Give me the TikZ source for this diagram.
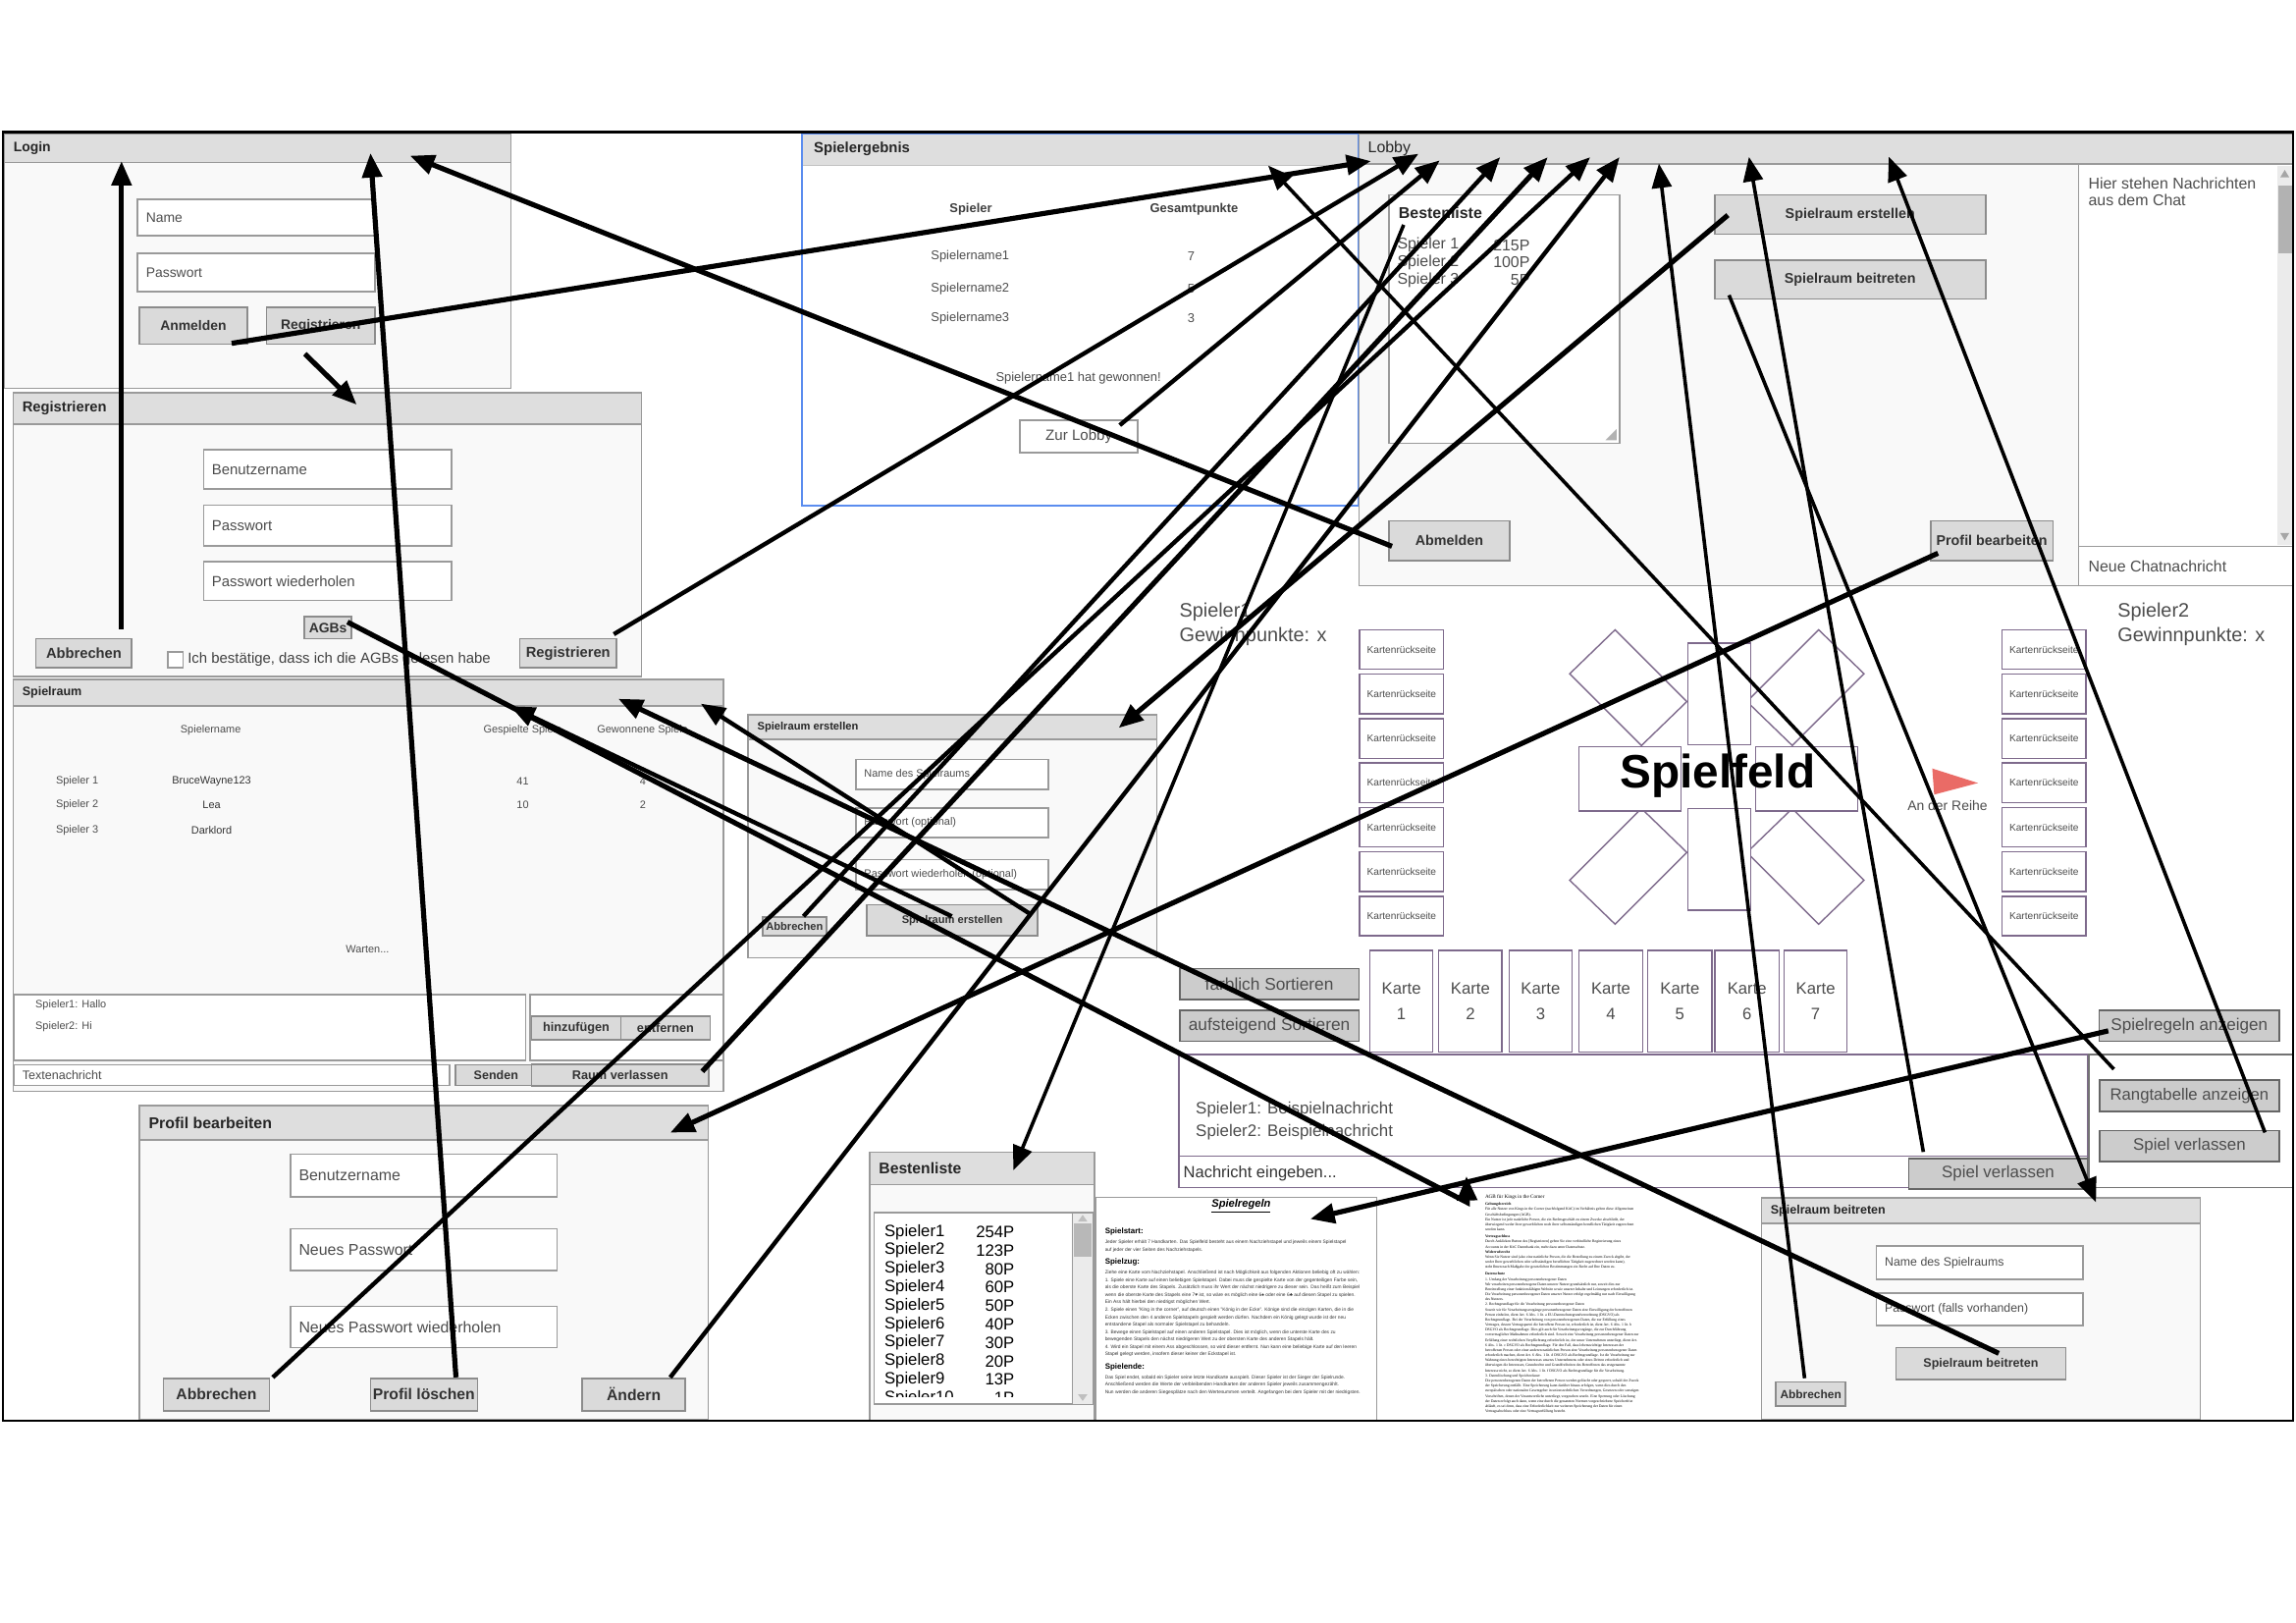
\documentclass[tikz,border=0pt]{standalone}
\usepackage{fontspec}
\setmainfont{Liberation Sans}
\newfontfamily\agbfont{Liberation Serif}
\usetikzlibrary{arrows.meta,positioning,fit}

\definecolor{hdr}{HTML}{DEDEDE}
\definecolor{bodyfill}{HTML}{F9F9F9}
\definecolor{frameline}{HTML}{9A9A9A}
\definecolor{btnfill}{HTML}{DADADA}
\definecolor{btnline}{HTML}{8C8C8C}
\definecolor{txtgray}{HTML}{4D4D4D}
\definecolor{cardline}{HTML}{7E6A8C}
\definecolor{resblue}{HTML}{5B8DEF}
\definecolor{flag}{HTML}{EA6B66}

\newcommand{\fsz}[1]{\fontsize{#1}{#1}\selectfont}

\tikzset{
  win/.style={draw=frameline, fill=bodyfill, line width=0.8pt},
  winhead/.style={draw=frameline, fill=hdr, line width=0.8pt},
  wintitle/.style={font=\bfseries, text=black!85, inner sep=0pt},
  field/.style={draw=frameline, fill=white, line width=0.8pt},
  fieldtxt/.style={text=txtgray, inner sep=0pt},
  btn/.style={draw=btnline, fill=btnfill, line width=0.8pt},
  btntxt/.style={font=\bfseries, text=black!80, inner sep=0pt},
  gbtn/.style={draw=black!60, fill=black!20, line width=0.8pt},
  card/.style={draw=cardline, fill=white, line width=0.7pt},
  cardtxt/.style={text=txtgray, inner sep=0pt},
  regh/.style={font=\bfseries\fsz{4}, inner sep=0pt, anchor=west},
  regb/.style={font=\fontsize{2.45}{3.8}\selectfont, align=left, inner sep=0pt, anchor=north west, text=black!80},
  lnk/.style={line width=2.2pt, -{Triangle[length=12.5pt,width=10pt]}},
  lnkthick/.style={lnk, line width=2.6pt},
  lnkthin/.style={lnk, line width=1.8pt},
}

% window with header bar: name, x1, y1, x2, y2, header bottom, title
\newcommand{\uiwin}[7]{%
  \draw[win] (#2,#3) rectangle (#4,#5);
  \draw[winhead] (#2,#3) rectangle (#4,#6);
  \node[wintitle, anchor=west] (#1) at (#2+6,{(#3+#6)/2}) {#7};}
% text field: name, x1, y1, x2, y2, text
\newcommand{\uifield}[6]{%
  \node[field, fit={(#2,#3)(#4,#5)}, inner sep=0pt] (#1) {};
  \node[fieldtxt, anchor=west] (#1-t) at ([xshift=4.5pt]#1.west) {#6};}
% button: name, x1, y1, x2, y2, text
\newcommand{\uibtn}[6]{%
  \node[btn, fit={(#2,#3)(#4,#5)}, inner sep=0pt] (#1) {};
  \node[btntxt] (#1-t) at (#1.center) {#6};}
\newcommand{\uigbtn}[6]{%
  \node[gbtn, fit={(#2,#3)(#4,#5)}, inner sep=0pt] (#1) {};
  \node[cardtxt] (#1-t) at (#1.center) {#6};}

\begin{document}
\begin{tikzpicture}[x=0.75pt, y=-0.75pt]
\fill[white] (0,0) rectangle (1568,1108);

% Login
\uiwin{login}{3}{91}{349}{265}{111}{\fsz{7}Login}
\uifield{lname}{94}{136}{256}{161}{\fsz{7}Name}
\uifield{lpw}{94}{173}{256}{199}{\fsz{7}Passwort}
\uibtn{anmelden}{95}{210}{169}{235}{\fsz{7}Anmelden}
\uibtn{lreg}{182}{210}{256}{235}{\fsz{7}Registrieren}

% Registrieren
\uiwin{reg}{9}{268}{438}{462}{289.6}{\fsz{7.4}Registrieren}
\uifield{regname}{139}{307}{308.5}{334}{\fsz{7.5}Benutzername}
\uifield{regpw}{139}{345}{308.5}{372.6}{\fsz{7.5}Passwort}
\uifield{regpw2}{139}{383.6}{308.5}{410}{\fsz{7.5}Passwort wiederholen}
\uibtn{agbs}{208}{421}{240}{436}{\fsz{7}AGBs}
\uibtn{regabbr}{24.6}{436}{90}{456}{\fsz{7.4}Abbrechen}
\node[field, fit={(114.6,445)(125,455.8)}, inner sep=0pt] (agbcheck) {};
\node[fieldtxt, anchor=west, text=black!75] (agbtxt) at (128,450.5) {\fsz{7.5}Ich bestätige, dass ich die AGBs gelesen habe};
\uibtn{regbtn}{355}{436}{421}{456}{\fsz{7.4}Registrieren}

% Spielergebnis
\draw[draw=resblue, fill=white, line width=0.9pt] (547.6,91) rectangle (927.5,345);
\fill[hdr] (548.2,91.6) rectangle (926.9,112.7);
\draw[frameline!60, line width=0.6pt] (548.2,112.7) -- (926.9,112.7);
\node[wintitle, anchor=west] (erg) at (555.6,101.5) {\fsz{7.5}Spielergebnis};
\node[font=\bfseries\fsz{6.5}, text=black!75] (erg-sp) at (663,143) {Spieler};
\node[font=\bfseries\fsz{6.5}, text=black!75] (erg-gp) at (815.5,143) {Gesamtpunkte};
\foreach \y/\n/\p in {175/1/7,197/2/5,217/3/3}{
  \node[fieldtxt] (erg-n\n) at (662.5,\y) {\fsz{6.5}Spielername\n};
  \node[fieldtxt] (erg-p\n) at (813.5,\y) {\fsz{6.5}\p};
}
\node[fieldtxt] (erg-win) at (736.5,258) {\fsz{6.5}Spielername1 hat gewonnen!};
\node[field, fit={(696.7,287)(777,309)}, inner sep=0pt] (zurlobby) {};
\node[fieldtxt] (zurlobby-t) at (zurlobby.center) {\fsz{7.6}Zur Lobby};

% Lobby
\uiwin{lobby}{928}{91}{1566}{400}{112}{\mdseries\fsz{8}Lobby}
\node[field, fit={(948.5,133)(1106,302.7)}, inner sep=0pt] (lbest) {};
\node[wintitle, anchor=west] (lbest-t) at (955,145.6) {\fsz{8}Bestenliste};
\foreach \y/\n/\p in {167.5/1/215P,179/2/100P,191/3/5P}{
  \node[fieldtxt, anchor=west] (lb-n\n) at (954,\y) {\fsz{8}Spieler \n};
  \node[fieldtxt, anchor=east] (lb-p\n) at (1045,\y) {\fsz{8}\p};
}
\fill[black!30] (1104,293) -- (1104,300.5) -- (1096.5,300.5) -- cycle;
\uibtn{lerst}{1171}{133}{1356}{160}{\fsz{7.2}Spielraum erstellen}
\uibtn{lbeitr}{1171}{177.5}{1356}{204}{\fsz{7.2}Spielraum beitreten}
\uibtn{abmelden}{948.5}{355.7}{1031}{382.6}{\fsz{7.2}Abmelden}
\uibtn{lprof}{1318.5}{355.7}{1402}{382.6}{\fsz{7.2}Profil bearbeiten}
\draw[frameline, fill=white, line width=0.8pt] (1419.5,112) rectangle (1566,400);
\draw[frameline, line width=0.8pt] (1419.5,373) -- (1566,373);
\fill[black!8] (1555,113) rectangle (1565.5,372);
\fill[black!30] (1556,127) rectangle (1565,173);
\fill[black!35] (1560.3,116) -- (1563.3,121) -- (1557.3,121) -- cycle;
\fill[black!35] (1560.3,369) -- (1563.3,364) -- (1557.3,364) -- cycle;
\node[fieldtxt, anchor=west, align=left, font=\fontsize{8}{8.4}\selectfont] (lchat) at (1426,131) {Hier stehen Nachrichten\\aus dem Chat};
\node[fieldtxt, anchor=west] (lchat-in) at (1426,387) {\fsz{8}Neue Chatnachricht};

% Spielraum
\uiwin{raum}{9}{464}{494}{745}{482}{\fsz{6.3}Spielraum}
\node[fieldtxt] (rh-a) at (143.9,498.5) {\fsz{5.5}Spielername};
\node[fieldtxt] (rh-b) at (356.9,498.5) {\fsz{5.5}Gespielte Spiele};
\node[fieldtxt] (rh-c) at (438.8,498.5) {\fsz{5.5}Gewonnene Spiele};
\foreach \y/\i/\nm/\gs/\gw in {533.4/1/BruceWayne123/41/4,549.6/2/Lea/10/2,567/3/Darklord//}{
  \node[fieldtxt] (rr-s\i) at (52.7,\y) {\fsz{5.5}Spieler \i};
  \node[fieldtxt, text=black!80] (rr-n\i) at (144.5,\y) {\fsz{5.5}\nm};
  \node[fieldtxt] (rr-g\i) at (357,\y) {\fsz{5.5}\gs};
  \node[fieldtxt] (rr-w\i) at (439,\y) {\fsz{5.5}\gw};
}
\node[fieldtxt] (warten) at (251,648) {\fsz{5.5}Warten...};
\node[field, fit={(9.6,679)(359,724)}, inner sep=0pt] (rchat) {};
\node[fieldtxt, anchor=west] (rchat1) at (24,686.5) {\fsz{5.5}Spieler1: Hallo};
\node[fieldtxt, anchor=west] (rchat2) at (24,701) {\fsz{5.5}Spieler2: Hi};
\node[field, fit={(362,679)(494,724)}, inner sep=0pt] (rfriends) {};
\uibtn{hinzu}{363}{694}{424}{710}{\fsz{6.4}hinzufügen}
\uibtn{entf}{424}{694}{485}{710}{\fsz{6.4}entfernen}
\uifield{rtext}{9.6}{727}{307}{741}{\fsz{6.3}Textenachricht}
\uibtn{senden}{311}{727}{366.5}{741}{\fsz{6.3}Senden}
\uibtn{raumverl}{363}{726.6}{484}{741.6}{\fsz{6.4}Raum verlassen}

% Spielraum erstellen
\uiwin{erst}{511}{488}{790}{654}{504.8}{\fsz{5.6}Spielraum erstellen}
\uifield{ename}{584.5}{518.4}{716}{539}{\fsz{5.5}Name des Spielraums}
\uifield{epw}{584.5}{551.6}{716}{572}{\fsz{5.5}Passwort (optional)}
\uifield{epw2}{584.5}{587}{716}{607.5}{\fsz{5.5}Passwort wiederholen (optional)}
\uibtn{eabbr}{520.7}{626}{564.5}{639}{\fsz{5.6}Abbrechen}
\uibtn{ebtn}{592}{617.7}{708.7}{639}{\fsz{5.6}Spielraum erstellen}

% Spielfeld
\node[fieldtxt, anchor=west] (sp1) at (805.2,417.8) {\fsz{10}Spieler1};
\node[fieldtxt, anchor=west] (sp1p) at (805.2,434.6) {\fsz{10}Gewinnpunkte: x};
\node[fieldtxt, anchor=west] (sp2) at (1445.9,417.7) {\fsz{10}Spieler2};
\node[fieldtxt, anchor=west] (sp2p) at (1445.9,434.5) {\fsz{10}Gewinnpunkte: x};
\foreach \i in {0,...,6}{
  \node[card, fit={(928.5,{430+\i*30.33})(985.9,{457+\i*30.33})}, inner sep=0pt] (lk\i) {};
  \node[cardtxt] (lk\i-t) at (lk\i.center) {\fsz{5.1}Kartenrückseite};
  \node[card, fit={(1367.2,{430+\i*30.33})(1424.6,{457+\i*30.33})}, inner sep=0pt] (rk\i) {};
  \node[cardtxt] (rk\i-t) at (rk\i.center) {\fsz{5.1}Kartenrückseite};
}
\draw[card] (1103,430) -- (1152,479) -- (1121,509) -- (1072,460) -- cycle;
\draw[card] (1242,430) -- (1273,460) -- (1224,509) -- (1193,479) -- cycle;
\draw[card] (1121,552) -- (1152,582) -- (1103,631) -- (1072,601) -- cycle;
\draw[card] (1224,552) -- (1273,601) -- (1242,631) -- (1193,582) -- cycle;
\node[card, fit={(1152.8,439)(1195.8,508.4)}, inner sep=0pt] (pile-n) {};
\node[card, fit={(1152.8,552)(1195.8,621.4)}, inner sep=0pt] (pile-s) {};
\node[card, fit={(1078.1,510)(1147.8,553.6)}, inner sep=0pt] (pile-w) {};
\node[card, fit={(1199,510)(1268.8,553.6)}, inner sep=0pt] (pile-e) {};
\node[font=\bfseries\fsz{24}] (spielfeld) at (1173,530) {Spielfeld};
\fill[flag] (1319.6,524.7) -- (1350.8,534.6) -- (1320.9,542.5) -- cycle;
\node[cardtxt] (reihe) at (1330,550) {\fsz{7}An der Reihe};
\foreach \xa/\xb/\n in {935.5/978.5/1,982.6/1025.7/2,1030.6/1073.6/3,1078.1/1122/4,1125.3/1169.2/5,1171.2/1215/6,1218.4/1261.4/7}{
  \node[card, fit={(\xa,649)(\xb,718.4)}, inner sep=0pt] (karte\n) {};
  \node[cardtxt, align=center, font=\fontsize{8.4}{12.75}\selectfont] (karte\n-t) at (karte\n.center) {Karte\\\n};
}
\uigbtn{farbl}{805.7}{661.3}{928}{682.6}{\fsz{8.7}farblich Sortieren}
\uigbtn{aufst}{805.7}{689.7}{928}{711}{\fsz{8.7}aufsteigend Sortieren}
\uigbtn{regelnbtn}{1433.6}{689.7}{1556.6}{711}{\fsz{8.6}Spielregeln anzeigen}
\node[card, fit={(805,720)(1425.5,811)}, inner sep=0pt] (fchat) {};
\draw[cardline, line width=0.7pt] (805,789.4) -- (1425.5,789.4);
\node[fieldtxt, anchor=west] (fchat1) at (816.4,757.7) {\fsz{8.5}Spieler1: Beispielnachricht};
\node[fieldtxt, anchor=west] (fchat2) at (816.4,773.2) {\fsz{8.5}Spieler2: Beispielnachricht};
\node[fieldtxt, anchor=west, text=black!80] (fchat-in) at (808,801) {\fsz{8.3}Nachricht eingeben...};
\uigbtn{fverl1}{1303.6}{791}{1425.5}{812}{\fsz{8.5}Spiel verlassen}
\node[card, draw=black!55, fit={(1426.5,720)(1566,811)}, inner sep=0pt] (fside) {};
\uigbtn{rangbtn}{1433.8}{737.3}{1556.6}{758.8}{\fsz{8.4}Rangtabelle anzeigen}
\uigbtn{fverl2}{1433.8}{772}{1556.6}{793}{\fsz{8.5}Spiel verlassen}

% Profil bearbeiten
\uiwin{prof}{95.3}{755}{483.7}{969.3}{778.2}{\fsz{8}Profil bearbeiten}
\uifield{pname}{198.4}{788}{380.4}{817}{\fsz{8}Benutzername}
\uifield{ppw}{198.4}{839}{380.4}{867.5}{\fsz{8}Neues Passwort}
\uifield{ppw2}{198.4}{891.8}{380.4}{920}{\fsz{8}Neues Passwort wiederholen}
\uibtn{pabbr}{111.6}{941}{184}{963.3}{\fsz{7.9}Abbrechen}
\uibtn{ploesch}{253}{941}{326}{963.3}{\fsz{7.9}Profil löschen}
\uibtn{paendern}{397.6}{941}{468}{963.3}{\fsz{7.9}Ändern}

% Bestenliste
\uiwin{best}{594}{786.8}{747.3}{970}{808.8}{\fsz{7.9}Bestenliste}
\node[field, fit={(597,827.8)(746.5,958.8)}, inner sep=0pt] (blist) {};
\fill[black!8] (732.8,828.3) rectangle (746,958.3);
\draw[frameline, line width=0.6pt] (732.4,827.8) -- (732.4,958.8);
\fill[black!28] (733.6,835.6) rectangle (745.2,858);
\fill[black!25] (739.4,829.5) -- (742.6,834) -- (736.2,834) -- cycle;
\fill[black!25] (739.4,956.5) -- (742.6,952) -- (736.2,952) -- cycle;
\begin{scope}
  \clip (597.5,828.3) rectangle (732,953.5);
  \foreach \i/\p in {1/254P,2/123P,3/80P,4/60P,5/50P,6/40P,7/30P,8/20P,9/13P,10/1P}{
    \node[anchor=west, inner sep=0pt] (be-n\i) at (603.8,{841.2+(\i-1)*12.6}) {\fsz{8.4}Spieler\i};
    \node[anchor=east, inner sep=0pt] (be-p\i) at (693,{841.2+(\i-1)*12.6}) {\fsz{8.4}\p};
  }
\end{scope}

% Spielregeln
\draw[frameline, fill=white, line width=0.6pt] (748.5,817.7) rectangle (940,970);
\node[font=\bfseries\itshape\fsz{5.6}] (regeln) at (847.6,823.3) {\underline{Spielregeln}};
\node[regh] (rg-h1) at (754.4,841.2) {Spielstart:};
\node[regb] (rg-b1) at (754.4,846.5) {Jeder Spieler erhält 7 Handkarten. Das Spielfeld besteht aus einem Nachziehstapel und jeweils einem Spielstapel\\auf jeder der vier Seiten des Nachziehstapels.};
\node[regh] (rg-h2) at (754.4,862) {Spielzug:};
\node[regb] (rg-b2) at (754.4,867.3) {Ziehe eine Karte vom Nachziehstapel. Anschließend ist nach Möglichkeit aus folgenden Aktionen beliebig oft zu wählen:\\
1. Spiele eine Karte auf einen beliebigen Spielstapel. Dabei muss die gespielte Karte von der gegenteiligen Farbe sein,\\
als die oberste Karte des Stapels. Zusätzlich muss ihr Wert der nächst niedrigere zu dieser sein. Das heißt zum Beispiel\\
wenn die oberste Karte des Stapels eine 7♥ ist, so wäre es möglich eine 6♠ oder eine 6♣ auf diesen Stapel zu spielen.\\
Ein Ass hält hierbei den niedrigst möglichen Wert.\\
2. Spiele einen "King in the corner", auf deutsch einen "König in der Ecke". Könige sind die einzigen Karten, die in die\\
Ecken zwischen den 4 anderen Spielstapeln gespielt werden dürfen. Nachdem ein König gelegt wurde ist der neu\\
entstandene Stapel als normaler Spielstapel zu behandeln.\\
3. Bewege einen Spielstapel auf einen anderen Spielstapel. Dies ist möglich, wenn die unterste Karte des zu\\
bewegenden Stapels den nächst niedrigeren Wert zu der obersten Karte des anderen Stapels hält.\\
4. Wird ein Stapel mit einem Ass abgeschlossen, so wird dieser entfernt. Nun kann eine beliebige Karte auf den leeren\\
Stapel gelegt werden, insofern dieser keiner der Eckstapel ist.};
\node[regh] (rg-h3) at (754.4,933.5) {Spielende:};
\node[regb] (rg-b3) at (754.4,938.6) {Das Spiel endet, sobald ein Spieler seine letzte Handkarte ausspielt. Dieser Spieler ist der Sieger der Spielrunde.\\
Anschließend werden die Werte der verbleibenden Handkarten der anderen Spieler jeweils zusammengezählt.\\
Nun werden die anderen Siegesplätze nach den Wertesummen verteilt. Angefangen bei dem Spieler mit der niedrigsten.};

% AGB
\fill[white] (940.5,812.5) rectangle (1203,970);
\node[anchor=north west, align=left, inner sep=0pt, font=\agbfont\fontsize{1.9}{2.6}\selectfont] (agbtext) at (1014,815.5) {%
{\fontsize{2.6}{3.2}\selectfont AGB für Kings in the Corner}\\[1pt]
\textbf{Geltungsbereich}\\
Für alle Nutzer von Kings in the Corner (nachfolgend KitC) im Verhältnis gelten diese Allgemeinen\\
Geschäftsbedingungen (AGB).\\
Ein Nutzer ist jede natürliche Person, die ein Rechtsgeschäft zu einem Zwecke abschließt, der\\
überwiegend weder ihrer gewerblichen noch ihrer selbstständigen beruflichen Tätigkeit zugerechnet\\
werden kann.\\[1pt]
\textbf{Vertragsschluss}\\
Durch Anklicken Button des [Registrieren] geben Sie eine verbindliche Registrierung eines\\
Accounts in der KitC Datenbank ein, mehr dazu unter Datenschutz.\\
\textbf{Widerrufsrecht}\\
Wenn Sie Nutzer sind (also eine natürliche Person, die die Bestellung zu einem Zweck abgibt, der\\
weder Ihrer gewerblichen oder selbständigen beruflichen Tätigkeit zugerechnet werden kann),\\
steht Ihnen nach Maßgabe der gesetzlichen Bestimmungen ein Recht auf Ihre Daten zu.\\[1pt]
\textbf{Datenschutz}\\
1. Umfang der Verarbeitung personenbezogener Daten\\
Wir verarbeiten personenbezogene Daten unserer Nutzer grundsätzlich nur, soweit dies zur\\
Bereitstellung einer funktionsfähigen Website sowie unserer Inhalte und Leistungen erforderlich ist.\\
Die Verarbeitung personenbezogener Daten unserer Nutzer erfolgt regelmäßig nur nach Einwilligung\\
des Nutzers.\\
2. Rechtsgrundlage für die Verarbeitung personenbezogener Daten\\
Soweit wir für Verarbeitungsvorgänge personenbezogener Daten eine Einwilligung der betroffenen\\
Person einholen, dient Art. 6 Abs. 1 lit. a EU-Datenschutzgrundverordnung (DSGVO) als\\
Rechtsgrundlage. Bei der Verarbeitung von personenbezogenen Daten, die zur Erfüllung eines\\
Vertrages, dessen Vertragspartei die betroffene Person ist, erforderlich ist, dient Art. 6 Abs. 1 lit. b\\
DSGVO als Rechtsgrundlage. Dies gilt auch für Verarbeitungsvorgänge, die zur Durchführung\\
vorvertraglicher Maßnahmen erforderlich sind. Soweit eine Verarbeitung personenbezogener Daten zur\\
Erfüllung einer rechtlichen Verpflichtung erforderlich ist, der unser Unternehmen unterliegt, dient Art.\\
6 Abs. 1 lit. c DSGVO als Rechtsgrundlage. Für den Fall, dass lebenswichtige Interessen der\\
betroffenen Person oder einer anderen natürlichen Person eine Verarbeitung personenbezogener Daten\\
erforderlich machen, dient Art. 6 Abs. 1 lit. d DSGVO als Rechtsgrundlage. Ist die Verarbeitung zur\\
Wahrung eines berechtigten Interesses unseres Unternehmens oder eines Dritten erforderlich und\\
überwiegen die Interessen, Grundrechte und Grundfreiheiten des Betroffenen das erstgenannte\\
Interesse nicht, so dient Art. 6 Abs. 1 lit. f DSGVO als Rechtsgrundlage für die Verarbeitung.\\
3. Datenlöschung und Speicherdauer\\
Die personenbezogenen Daten der betroffenen Person werden gelöscht oder gesperrt, sobald der Zweck\\
der Speicherung entfällt. Eine Speicherung kann darüber hinaus erfolgen, wenn dies durch den\\
europäischen oder nationalen Gesetzgeber in unionsrechtlichen Verordnungen, Gesetzen oder sonstigen\\
Vorschriften, denen der Verantwortliche unterliegt, vorgesehen wurde. Eine Sperrung oder Löschung\\
der Daten erfolgt auch dann, wenn eine durch die genannten Normen vorgeschriebene Speicherfrist\\
abläuft, es sei denn, dass eine Erforderlichkeit zur weiteren Speicherung der Daten für einen\\
Vertragsabschluss oder eine Vertragserfüllung besteht.};
\draw[frameline, line width=0.6pt] (940,817.7) -- (940,970);

% Spielraum beitreten
\uiwin{beitr}{1203}{818}{1502.6}{969.4}{835.3}{\fsz{6.3}Spielraum beitreten}
\uifield{bname}{1281.5}{850.8}{1422.5}{873.4}{\fsz{6.2}Name des Spielraums}
\uifield{bpw}{1281.5}{883}{1422.5}{905}{\fsz{6.2}Passwort (falls vorhanden)}
\uibtn{bbtn}{1294.8}{920}{1410.7}{942}{\fsz{6.3}Spielraum beitreten}
\uibtn{babbr}{1212.8}{943.5}{1260.4}{960}{\fsz{6}Abbrechen}

% outer frame
\draw[line width=1.3pt] (2,90) rectangle (1566,970);

% connector ends
\coordinate (c-regabbr) at (83,429.5);    \coordinate (t-login1) at (83,110);
\coordinate (c-ploesch) at (311.4,940.4); \coordinate (t-login2) at (253,104.5);
\coordinate (c-abmelden) at (950.6,373);  \coordinate (t-login3) at (280,106.3);
\coordinate (c-anmelden) at (158.2,234.4);\coordinate (t-lobby0) at (936.3,110);
\coordinate (c-lreg) at (208.2,241.6);    \coordinate (t-reg) at (243.6,276.3);
\coordinate (c-regbtn) at (419.2,433);    \coordinate (t-lobby1) at (968.7,105);
\coordinate (c-zurlobby) at (764.7,290.3);\coordinate (t-lobby2) at (983.2,109.5);
\coordinate (c-eabbr) at (548.7,625.6);   \coordinate (t-lobby3) at (1024.5,107.3);
\coordinate (c-raumverl) at (479.6,731.5);\coordinate (t-lobby4) at (1057,107.3);
\coordinate (c-pabbr) at (186.3,940.4);   \coordinate (t-lobby5) at (1086,107.3);
\coordinate (c-paendern) at (457.7,940.4);\coordinate (t-lobby6) at (1106,107.3);
\coordinate (c-babbr) at (1232.4,941);    \coordinate (t-lobby7) at (1132.9,111.6);
\coordinate (c-fverl1) at (1313.5,786.5); \coordinate (t-lobby8) at (1194.4,107.1);
\coordinate (c-fverl2) at (1546.8,773.2); \coordinate (t-lobby9) at (1289.9,107);
\coordinate (c-lbest) at (958.6,153.5);   \coordinate (t-best) at (692,799);
\coordinate (c-lerst) at (1180,146.9);    \coordinate (t-erst) at (764,497);
\coordinate (c-lbeitr) at (1180.8,201.5); \coordinate (t-beitr) at (1431.4,820.9);
\coordinate (c-lprof) at (1323.5,377.7);  \coordinate (t-prof) at (457.7,773.3);
\coordinate (c-regeln) at (1439.8,703.8); \coordinate (t-regeln) at (894.8,832.3);
\coordinate (c-rang) at (1443.6,730);     \coordinate (t-erg) at (866,113);
\coordinate (c-agbs) at (237.3,424.7);    \coordinate (k-agb) at (1002,821);
\coordinate (t-agb) at (1001.5,803);
\coordinate (c-ebtn1) at (650,625.6);     \coordinate (t-raum1) at (348.6,482.2);
\coordinate (c-bbtn) at (1365,924);       \coordinate (t-raum2) at (422.3,477.1);
\coordinate (c-ebtn2) at (704.3,624.5);   \coordinate (t-raum3) at (478.6,480.4);

% connectors
\draw[lnkthick] (c-regabbr) -- (t-login1);
\draw[lnkthick] (c-ploesch) -- (t-login2);
\draw[lnkthick] (c-abmelden) -- (t-login3);
\draw[lnkthick] (c-anmelden) -- (t-lobby0);
\draw[lnkthick] (c-lreg) -- (t-reg);
\draw[lnk] (c-regbtn) -- (t-lobby1);
\draw[lnk] (c-zurlobby) -- (t-lobby2);
\draw[lnk] (c-eabbr) -- (t-lobby3);
\draw[lnkthick] (c-raumverl) -- (t-lobby4);
\draw[lnk] (c-pabbr) -- (t-lobby5);
\draw[lnk] (c-paendern) -- (t-lobby6);
\draw[lnkthin] (c-babbr) -- (t-lobby7);
\draw[lnkthin] (c-fverl1) -- (t-lobby8);
\draw[lnkthin] (c-fverl2) -- (t-lobby9);
\draw[lnkthin] (c-lbest) -- (t-best);
\draw[lnkthick] (c-lerst) -- (t-erst);
\draw[lnkthin] (c-lbeitr) -- (t-beitr);
\draw[lnkthick] (c-lprof) -- (t-prof);
\draw[lnkthick] (c-regeln) -- (t-regeln);
\draw[lnkthin] (c-rang) -- (t-erg);
\draw[lnkthick] (c-agbs) -- (k-agb) -- (t-agb);
\draw[lnk] (c-ebtn1) -- (t-raum1);
\draw[lnkthick] (c-bbtn) -- (t-raum2);
\draw[lnk] (c-ebtn2) -- (t-raum3);
\end{tikzpicture}
\end{document}
